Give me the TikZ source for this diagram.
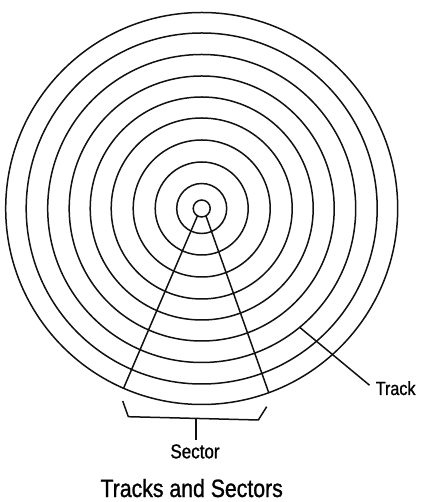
\documentclass[tikz,border=0pt]{standalone}
\usepackage{fontspec}
\newfontfamily\diskfont[FakeStretch=0.85,FakeBold=1]{Liberation Sans}
\usetikzlibrary{positioning,calc}
\definecolor{Ink}{HTML}{111111}

\begin{document}
\begin{tikzpicture}[x=1pt,y=1pt,line width=1.5pt,font=\diskfont]
\useasboundingbox (0,0) rectangle (420,502);
\coordinate (c) at (201.7,293.5);
% tracks
\foreach \r in {8.5,25,46.5,68.5,90.5,111.5,132.5,154,175.5,196} {
  \draw[Ink] (c) circle[radius=\r];
}
% sector edges
\coordinate (sA) at ($(c)+(240:8.5)$);
\coordinate (sB) at ($(c)+(300:8.5)$);
\coordinate (eA) at ($(c)+(246.5:196)$);
\coordinate (eB) at ($(c)+(290:196)$);
\draw[Ink] (sA) -- (eA);
\draw[Ink] (sB) -- (eB);
% brace under the sector
\coordinate (b1) at (122.7,101);
\coordinate (b2) at (128.3,85.3);
\coordinate (b3) at (258.3,82);
\coordinate (b4) at (266.7,95.3);
\coordinate (bmid) at ($(b2)!0.52!(b3)$);
\draw[Ink,line join=round] (b1) -- (b2) -- (b3) -- (b4);
\node[anchor=base,font=\diskfont\fontsize{20}{24}\selectfont] (sector) at (195,43.7) {Sector};
\draw[Ink] (bmid) -- (bmid |- sector.north);
% track label
\node[anchor=base west,inner sep=1pt,font=\diskfont\fontsize{19}{22}\selectfont] (track) at (374,107) {Track};
\coordinate (tk) at ($(c)+(309.5:154)$);
\draw[Ink] (tk) -- ($(track.west)+(-4.5,3)$);
\node[anchor=base,inner sep=0pt,font=\diskfont\fontsize{25}{30}\selectfont] (caption) at (191.7,5) {Tracks and Sectors};
\end{tikzpicture}
\end{document}
